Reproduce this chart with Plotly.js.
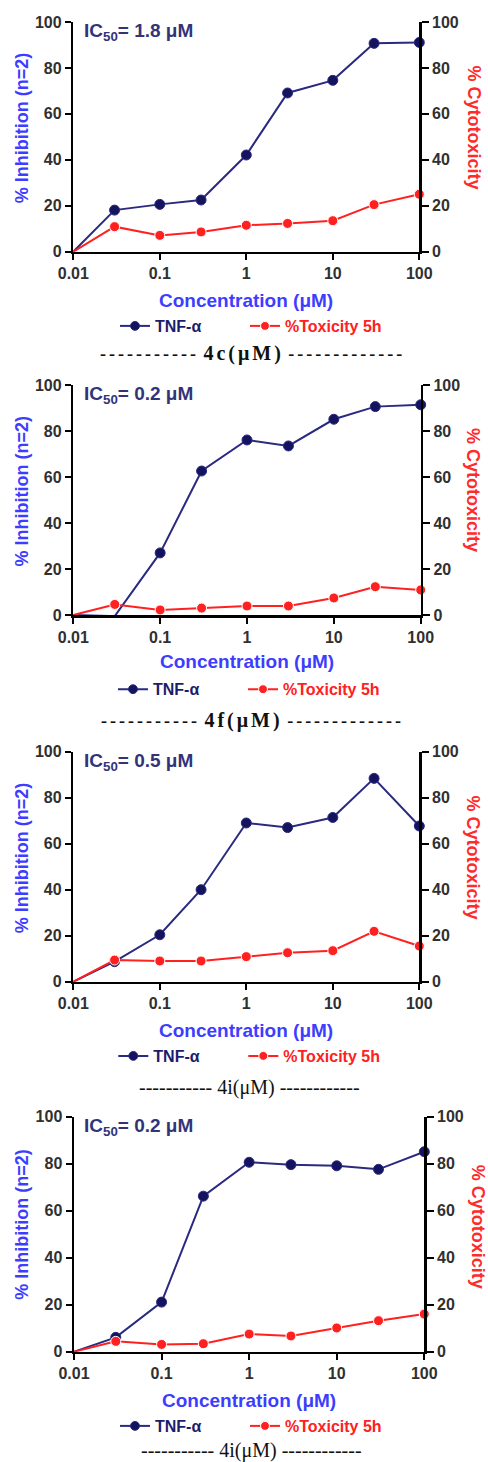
<!DOCTYPE html>
<html>
<head>
<meta charset="utf-8">
<script src="https://cdn.plot.ly/plotly-3.0.1.min.js"></script>
<style>html,body{margin:0;padding:0;background:#fff;}</style>
</head>
<body>
<div id="chart" style="width:488px;height:1462px;"></div>
<script>
// ---- data ----
var concentration = [0.01, 0.03, 0.1, 0.3, 1, 3, 10, 30, 100];
var tnf4c = [0, 18.1, 20.6, 22.5, 42.1, 69.1, 74.6, 90.7, 91.1];
var tox4c = [0, 10.9, 7.1, 8.6, 11.5, 12.3, 13.5, 20.5, 25.0];
var tnf4f = [0, -0.5, 27.0, 62.6, 76.1, 73.5, 85.1, 90.6, 91.4];
var tox4f = [0, 4.6, 2.2, 3.0, 3.9, 3.9, 7.4, 12.3, 10.9];
var tnf4i = [0, 8.7, 20.4, 40.0, 69.0, 67.0, 71.4, 88.4, 67.7];
var tox4i = [0, 9.4, 9.0, 9.0, 10.9, 12.6, 13.5, 21.9, 15.5];
var tnf4i2 = [0, 6.1, 21.1, 66.2, 80.6, 79.6, 79.1, 77.6, 85.1];
var tox4i2 = [0, 4.4, 3.1, 3.4, 7.5, 6.7, 10.1, 13.2, 16.0];
var ic50Labels = ['1.8', '0.2', '0.5', '0.2'];
var compoundLabels = ['4c', '4f', '4i', '4i'];
var xTickVals = [0.01, 0.1, 1, 10, 100];
var xTickText = ['0.01', '0.1', '1', '10', '100'];
var yTickVals = [0, 20, 40, 60, 80, 100];
var seriesNames = ['TNF-\u03b1', '%Toxicity 5h'];

var tnfSets = [tnf4c, tnf4f, tnf4i, tnf4i2];
var toxSets = [tox4c, tox4f, tox4i, tox4i2];

// ---- layout geometry (pixels) ----
var W = 488, H = 1462;
var panels = [
  {l: 73.3, r: 419.3, t: 22,    b: 251.7,  ic: 32,    xt: 300,    lg: 326,   lgx: 135, cap: 353,  capx: 252.5, lt: 127.5, rt: 127.5, rtx: 474},
  {l: 73.3, r: 420.7, t: 385,   b: 615,    ic: 395,   xt: 661.7,  lg: 689.3, lgx: 133, cap: 720,  capx: 252.5, lt: 490.8, rt: 490,   rtx: 473},
  {l: 73.3, r: 419.3, t: 751.7, b: 981.7,  ic: 761.7, xt: 1030,   lg: 1056,  lgx: 133.3, cap: 1087, capx: 249, lt: 857.5, rt: 857.5, rtx: 473},
  {l: 74,   r: 424.3, t: 1116.7, b: 1351.7, ic: 1126.7, xt: 1400, lg: 1426,  lgx: 135, cap: 1450, capx: 251, lt: 1224,  rt: 1226.7, rtx: 478}
];
function px(x) { return x / W; }
function py(y) { return 1 - y / H; }

var navyLine = '#2a2a80', navyMark = '#14145e', red = '#ff2020';
var blueTitle = '#3d3dff', redTitle = '#ff2a2a', tickColor = '#303030';
var sans = 'Liberation Sans, Arial, sans-serif';
var serif = 'Liberation Serif, Times New Roman, serif';

var data = [];
var layout = {
  width: W, height: H,
  margin: {l: 0, r: 0, t: 0, b: 0, pad: 0},
  paper_bgcolor: '#ffffff', plot_bgcolor: 'rgba(0,0,0,0)',
  showlegend: true,
  annotations: []
};

var markerSizes = concentration.map(function (c, i) { return i === 0 ? 0 : 10; });

panels.forEach(function (p, i) {
  var xid = i === 0 ? 'x' : 'x' + (i + 1);
  var xkey = i === 0 ? 'xaxis' : 'xaxis' + (i + 1);
  var yl = 'y' + (2 * i + 1), yr = 'y' + (2 * i + 2);
  var ylkey = (2 * i + 1) === 1 ? 'yaxis' : 'yaxis' + (2 * i + 1);
  var yrkey = 'yaxis' + (2 * i + 2);
  var ylid = (2 * i + 1) === 1 ? 'y' : yl;
  var legId = i === 0 ? 'legend' : 'legend' + (i + 1);

  data.push({
    type: 'scatter', mode: 'lines+markers', x: concentration, y: tnfSets[i],
    xaxis: xid, yaxis: ylid, name: seriesNames[0], legend: legId,
    line: {color: navyLine, width: 2},
    marker: {color: navyMark, size: markerSizes, symbol: 'circle', opacity: 1},
    cliponaxis: false
  });
  data.push({
    type: 'scatter', mode: 'lines+markers', x: concentration, y: toxSets[i],
    xaxis: xid, yaxis: yr, name: '<span style="color:' + red + '">' + seriesNames[1] + '</span>', legend: legId,
    legendwidth: 120,
    line: {color: red, width: 2},
    marker: {color: red, size: markerSizes, symbol: 'circle', opacity: 1},
    cliponaxis: false
  });

  var tickfont = {family: sans, size: 16, color: tickColor, weight: 'bold'};
  layout[xkey] = {
    type: 'log', range: [-2, 2], domain: [px(p.l), px(p.r)], anchor: ylid,
    tickvals: xTickVals, ticktext: xTickText, ticks: 'outside', ticklen: 6, tickwidth: 2,
    tickcolor: '#000', showline: true, linecolor: '#000', linewidth: 2.5,
    showgrid: false, zeroline: false, tickfont: tickfont, fixedrange: true
  };
  layout[ylkey] = {
    range: [0, 100], domain: [py(p.b), py(p.t)], anchor: xid,
    tickvals: yTickVals, ticks: 'outside', ticklen: 6, tickwidth: 2, tickcolor: '#000',
    showline: true, linecolor: '#000', linewidth: 2.5, showgrid: false, zeroline: false,
    tickfont: tickfont, fixedrange: true
  };
  layout[yrkey] = {
    range: [0, 100], overlaying: ylid, side: 'right', anchor: xid,
    tickvals: yTickVals, ticks: 'outside', ticklen: 7, tickwidth: 2, tickcolor: '#000',
    showline: true, linecolor: '#000', linewidth: 2.5, showgrid: false, zeroline: false,
    tickfont: tickfont, fixedrange: true
  };
  layout[legId] = {
    orientation: 'h', x: px(p.lgx - 20), xanchor: 'left', y: py(p.lg), yanchor: 'middle',
    entrywidth: 85, entrywidthmode: 'pixels', bgcolor: 'rgba(0,0,0,0)',
    font: {family: sans, size: 16, color: '#1c1c6c', weight: 'bold'},
    itemclick: false, itemdoubleclick: false
  };

  // titles and labels
  layout.annotations.push({
    xref: 'paper', yref: 'paper', x: px((p.l + p.r) / 2), y: py(p.xt), xanchor: 'center', yanchor: 'middle',
    text: 'Concentration (\u03bcM)', showarrow: false,
    font: {family: sans, size: 19, color: blueTitle, weight: 'bold'}
  });
  layout.annotations.push({
    xref: 'paper', yref: 'paper', x: px(21.7), y: py(p.lt), xanchor: 'center', yanchor: 'middle',
    text: '% Inhibition (n=2)', textangle: -90, showarrow: false,
    font: {family: sans, size: 18, color: blueTitle, weight: 'bold'}
  });
  layout.annotations.push({
    xref: 'paper', yref: 'paper', x: px(p.rtx), y: py(p.rt), xanchor: 'center', yanchor: 'middle',
    text: '% Cytotoxicity', textangle: 90, showarrow: false,
    font: {family: sans, size: 18, color: redTitle, weight: 'bold'}
  });
  layout.annotations.push({
    xref: 'paper', yref: 'paper', x: px(82), y: py(p.ic), xanchor: 'left', yanchor: 'middle',
    text: 'IC<sub>50</sub>= ' + ic50Labels[i] + ' \u03bcM', showarrow: false,
    font: {family: sans, size: 19, color: '#33337a', weight: 'bold'}
  });
  var capText, capFont;
  if (i < 2) {
    capText = '<span style="letter-spacing:3px">-----------</span> ' +
              '<span style="letter-spacing:3px;font-size:20px">' + compoundLabels[i] + '(\u03bcM)</span> ' +
              '<span style="letter-spacing:3px">-------------</span>';
    capFont = {family: serif, size: 18, color: '#111', weight: 'bold'};
  } else {
    capText = '----------- ' + compoundLabels[i] + '(\u03bcM) ------------';
    capFont = {family: serif, size: 20, color: '#111'};
  }
  layout.annotations.push({
    xref: 'paper', yref: 'paper', x: px(p.capx), y: py(p.cap), xanchor: 'center', yanchor: 'middle',
    text: capText, showarrow: false, font: capFont
  });
});

Plotly.newPlot('chart', data, layout, {displayModeBar: false, staticPlot: true});
</script>
</body>
</html>
